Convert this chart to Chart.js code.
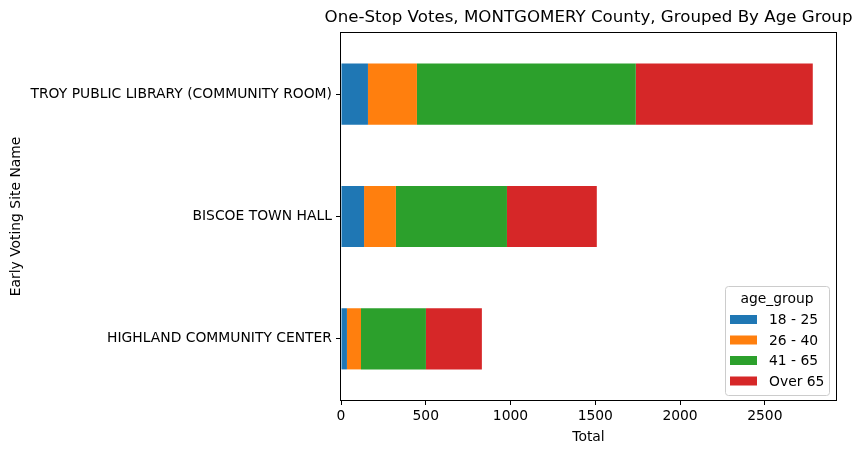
<!DOCTYPE html>
<html>
<head>
<meta charset="utf-8">
<script src="https://cdn.jsdelivr.net/npm/chart.js@4/dist/chart.umd.min.js"></script>
<style>
  body { margin: 0; background: #fff; }
  canvas { display: block; }
</style>
</head>
<body>
<canvas id="chart" width="861" height="455"></canvas>
<script>
// 투표소 (위에서 아래 순서)
const sites = ['TROY PUBLIC LIBRARY (COMMUNITY ROOM)', 'BISCOE TOWN HALL', 'HIGHLAND COMMUNITY CENTER'];
const ageGroups = ['18 - 25', '26 - 40', '41 - 65', 'Over 65'];
const colors = ['#1f77b4', '#ff7f0e', '#2ca02c', '#d62728'];

// 연령대별 투표수
const age18to25 = [159, 136, 35];
const age26to40 = [289, 188, 83];
const age41to65 = [1291, 655, 383];
const over65 = [1044, 530, 330];

const xTicks = [0, 500, 1000, 1500, 2000, 2500];

const FONT = 'DejaVu Sans';
const FS = 13.89;

// 제목, 테두리, 범례를 직접 그림 (matplotlib 스타일)
const decorPlugin = {
  id: 'decor',
  afterDraw(chart) {
    const ctx = chart.ctx;
    const a = chart.chartArea;
    ctx.save();

    // 축 박스
    ctx.strokeStyle = '#000';
    ctx.lineWidth = 1;
    ctx.strokeRect(a.left - 0.5, a.top - 0.5, a.right - a.left + 1, a.bottom - a.top + 1);

    // 제목
    ctx.fillStyle = '#000';
    ctx.font = `16.67px "${FONT}"`;
    ctx.textAlign = 'center';
    ctx.textBaseline = 'middle';
    ctx.fillText('One-Stop Votes, MONTGOMERY County, Grouped By Age Group', (a.left + a.right) / 2, 18);

    // 범례
    const bx = 725, by = 286, bw = 104, bh = 109;
    ctx.fillStyle = 'rgba(255,255,255,0.8)';
    ctx.strokeStyle = '#cccccc';
    ctx.beginPath();
    ctx.roundRect(bx + 0.5, by + 0.5, bw, bh, 3);
    ctx.fill();
    ctx.stroke();

    ctx.fillStyle = '#000';
    ctx.font = `${FS}px "${FONT}"`;
    ctx.textAlign = 'center';
    ctx.fillText('age_group', bx + bw / 2, 299);

    ctx.textAlign = 'left';
    chart.data.datasets.forEach((ds, i) => {
      const y = 319.5 + i * 20.5;
      ctx.fillStyle = ds.backgroundColor;
      ctx.fillRect(730, y - 4.5, 27, 9);
      ctx.fillStyle = '#000';
      ctx.fillText(ds.label, 769, y + 1);
    });

    ctx.restore();
  }
};

const seriesValues = [age18to25, age26to40, age41to65, over65];

new Chart(document.getElementById('chart').getContext('2d'), {
  type: 'bar',
  data: {
    labels: sites,
    datasets: ageGroups.map((g, i) => ({
      label: g,
      data: seriesValues[i],
      backgroundColor: colors[i],
      barPercentage: 0.5,
      categoryPercentage: 1.0
    }))
  },
  options: {
    responsive: false,
    animation: false,
    indexAxis: 'y',
    layout: { padding: { top: 33, right: 25, left: 0, bottom: 0 } },
    plugins: {
      legend: { display: false },
      title: { display: false },
      tooltip: { enabled: false }
    },
    scales: {
      x: {
        stacked: true,
        min: 0,
        max: 2920,
        afterBuildTicks: scale => { scale.ticks = xTicks.map(v => ({ value: v })); },
        afterFit: scale => { scale.height = 55; },
        grid: { drawOnChartArea: false, tickLength: 5, color: '#000' },
        border: { display: false },
        ticks: {
          color: '#000',
          font: { family: FONT, size: FS },
          padding: 3,
          maxRotation: 0,
          callback: v => String(v)
        },
        title: {
          display: true,
          text: 'Total',
          color: '#000',
          font: { family: FONT, size: FS },
          padding: { top: 0, bottom: 9 }
        }
      },
      y: {
        stacked: true,
        afterFit: scale => { scale.width = 341; },
        grid: { drawOnChartArea: false, offset: false, tickLength: 5, color: '#000' },
        border: { display: false },
        ticks: { color: '#000', font: { family: FONT, size: FS }, padding: 4 },
        title: {
          display: true,
          text: 'Early Voting Site Name',
          color: '#000',
          font: { family: FONT, size: FS },
          padding: { top: 8, bottom: 0 }
        }
      }
    }
  },
  plugins: [decorPlugin]
});
</script>
</body>
</html>
